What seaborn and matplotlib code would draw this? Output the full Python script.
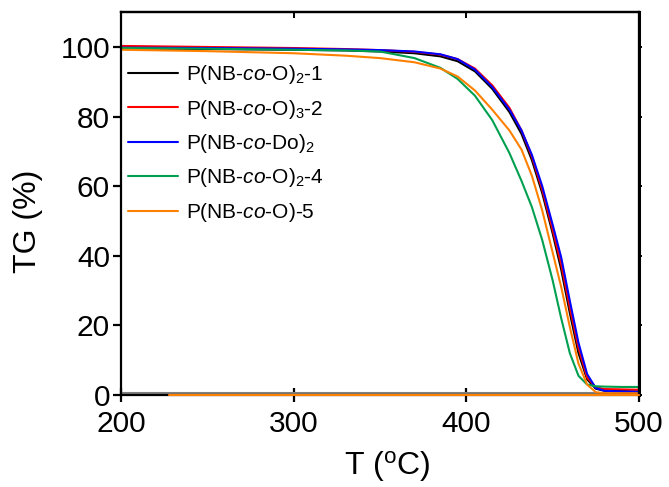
import numpy as np
import pandas as pd
import matplotlib
matplotlib.use("Agg")
import matplotlib.pyplot as plt
import seaborn as sns

# ---------------- data ----------------
T = [200, 250, 300, 330, 350, 370, 385, 395, 405, 415, 425, 432, 438,
     444, 450, 455, 460, 465, 470, 475, 480, 490, 500]

tg_1 = [99.6, 99.4, 99.2, 99.0, 98.7, 98.2, 97.3, 95.9, 93.0, 88.0, 81.3, 75.0,
        67.5, 58.0, 46.5, 36.0, 23.5, 12.0, 4.5, 1.8, 1.2, 1.1, 1.0]
tg_2 = [100.3, 100.0, 99.7, 99.4, 99.1, 98.6, 97.8, 96.5, 93.8, 89.0, 82.5, 76.0,
        68.5, 59.0, 47.5, 37.5, 25.0, 13.5, 5.0, 2.2, 1.7, 1.6, 1.5]
tg_do = [99.8, 99.7, 99.5, 99.3, 99.1, 98.7, 97.9, 96.5, 93.5, 88.5, 82.0, 76.0,
         69.0, 60.0, 49.0, 39.5, 27.0, 15.0, 6.0, 2.0, 1.2, 1.0, 0.9]
tg_4 = [99.7, 99.5, 99.2, 99.0, 98.7, 96.8, 94.0, 90.8, 86.0, 79.0, 69.5, 61.5,
        54.0, 44.5, 33.0, 22.0, 12.0, 5.5, 3.0, 2.5, 2.4, 2.3, 2.3]
tg_5 = [99.2, 98.8, 98.2, 97.5, 96.8, 95.6, 93.8, 91.5, 87.5, 82.0, 76.0, 70.5,
        63.0, 53.0, 41.0, 31.0, 19.5, 9.0, 3.0, 0.8, 0.5, 0.5, 0.5]

labels = ["P(NB-$\\it{co}$-O)$_2$-1",
          "P(NB-$\\it{co}$-O)$_3$-2",
          "P(NB-$\\it{co}$-Do)$_2$",
          "P(NB-$\\it{co}$-O)$_2$-4",
          "P(NB-$\\it{co}$-O)-5"]
series = [tg_1, tg_2, tg_do, tg_4, tg_5]
colors = ["#000000", "#ff0000", "#0000ff", "#00a050", "#ff8000"]

# baseline artefacts along y = 0
base_gray_T = [200, 500]
base_gray_v = [0.6, 0.6]
base_orange_T = [228, 500]
base_orange_v = [0.0, 0.0]

xticks = [200, 300, 400, 500]
yticks = [0, 20, 40, 60, 80, 100]

# ---------------- style ----------------
sns.set_style("ticks")
plt.rcParams["font.family"] = ["Liberation Sans", "DejaVu Sans"]
plt.rcParams["mathtext.fontset"] = "custom"
plt.rcParams["mathtext.rm"] = "Liberation Sans"
plt.rcParams["mathtext.it"] = "Liberation Sans:italic"
plt.rcParams["mathtext.bf"] = "Liberation Sans:bold"
plt.rcParams["text.color"] = "black"
plt.rcParams["axes.labelcolor"] = "black"
plt.rcParams["xtick.color"] = "black"
plt.rcParams["ytick.color"] = "black"
plt.rcParams["axes.edgecolor"] = "black"

df = pd.DataFrame({
    "T": np.tile(T, len(series)),
    "TG": np.concatenate(series),
    "sample": np.repeat(labels, len(T)),
})

fig = plt.figure(figsize=(6.69, 4.87), dpi=100)
ax = fig.add_axes([0.181, 0.189, 0.774, 0.786])

ax.plot(base_gray_T, base_gray_v, color="#808080", lw=1.5, clip_on=False, zorder=2)
ax.plot(base_orange_T, base_orange_v, color="#ff8000", lw=1.5, clip_on=False, zorder=4)

sns.lineplot(data=df, x="T", y="TG", hue="sample", hue_order=labels,
             palette=colors, linewidth=1.5, ax=ax, sort=True, estimator=None)

ax.set_xlim(200, 500)
ax.set_ylim(0, 110)
ax.set_xticks(xticks)
ax.set_yticks(yticks)

for s in ax.spines.values():
    s.set_linewidth(1.6)
    s.set_visible(True)

ax.tick_params(axis="both", labelsize=21.5, width=1.6)
ax.tick_params(axis="y", left=True, right=False, direction="out", length=6, pad=2)
ax.tick_params(axis="x", bottom=True, top=False, direction="inout", length=10, pad=6)

# small ticks on top and right
sx = ax.secondary_xaxis("top")
sx.set_xticks(xticks)
sx.tick_params(direction="in", length=4, width=1.4, labeltop=False)
sx.spines["top"].set_linewidth(1.6)
sy = ax.secondary_yaxis("right")
sy.set_yticks(yticks)
sy.tick_params(direction="out", length=2, width=1.4, labelright=False)
sy.spines["right"].set_linewidth(2.2)

ax.set_xlabel("T ($^\\mathrm{o}$C)", fontsize=23)
ax.set_ylabel("TG (%)", fontsize=23)
ax.xaxis.set_label_coords(0.515, -0.14)
ax.yaxis.set_label_coords(-0.15, 0.453)

leg = ax.legend(loc="upper left", bbox_to_anchor=(0.0135, 0.867), frameon=False,
                fontsize=15, handlelength=2.4, handletextpad=0.38,
                labelspacing=0.55, borderpad=0.0, borderaxespad=0.0)
for line in leg.get_lines():
    line.set_linewidth(1.5)

fig.savefig("out.png", dpi=100)
